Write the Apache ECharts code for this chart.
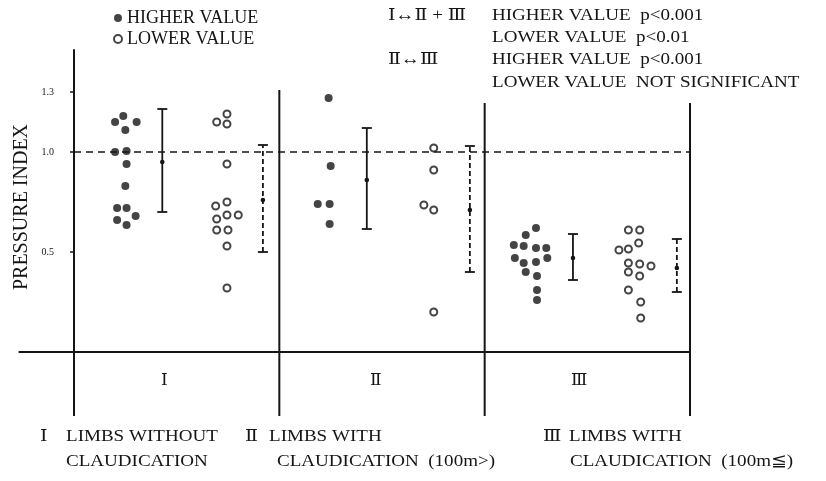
<!DOCTYPE html>
<html><head><meta charset="utf-8">
<script src="https://cdn.jsdelivr.net/npm/echarts@6/dist/echarts.min.js"></script>
<style>html,body{margin:0;padding:0;background:#fff}#c{width:826px;height:481px}</style>
</head><body><div id="c"></div>
<script>
// ---- data ----
const groupLabels = ['Ⅰ', 'Ⅱ', 'Ⅲ'];
const groupLabelPos = [0.44, 1.47, 2.46];
const yTickValues = [0.5, 1.0, 1.3];
const referenceValue = 1.0;
const referenceSpan = [0, 3];
const yMin = -0.32, yMax = 1.51;   // vertical rules reach down to yMin
const xMin = 0, xMax = 3, xStub = -0.27;
// [x position (group + jitter), pressure index]
const higherPoints = [
  [0.24,1.18],[0.20,1.15],[0.305,1.15],[0.25,1.11],[0.20,1.00],[0.256,1.005],[0.256,0.94],
  [0.25,0.83],[0.21,0.72],[0.256,0.72],[0.21,0.66],[0.30,0.68],[0.256,0.635],
  [1.24,1.27],[1.25,0.93],[1.187,0.74],[1.245,0.74],[1.245,0.64],
  [2.25,0.62],[2.20,0.585],[2.142,0.535],[2.19,0.53],[2.25,0.52],[2.30,0.52],[2.147,0.47],
  [2.305,0.47],[2.19,0.445],[2.25,0.45],[2.20,0.40],[2.255,0.38],[2.255,0.31],[2.255,0.26]
];
const lowerPoints = [
  [0.745,1.19],[0.695,1.15],[0.745,1.14],[0.745,0.94],[0.745,0.75],[0.69,0.73],[0.745,0.685],
  [0.80,0.685],[0.695,0.665],[0.695,0.61],[0.75,0.61],[0.745,0.53],[0.745,0.32],
  [1.752,1.02],[1.752,0.91],[1.704,0.735],[1.752,0.71],[1.752,0.20],
  [2.70,0.61],[2.755,0.61],[2.75,0.545],[2.654,0.51],[2.70,0.515],[2.70,0.445],[2.755,0.44],
  [2.81,0.43],[2.70,0.40],[2.755,0.38],[2.70,0.31],[2.76,0.25],[2.76,0.17]
];
// [x, low, mean, high]
const higherBars = [[0.43,0.70,0.95,1.215],[1.426,0.615,0.86,1.12],[2.43,0.36,0.47,0.59]];
const lowerBars = [[0.92,0.50,0.76,1.035],[1.928,0.40,0.71,1.03],[2.936,0.30,0.42,0.565]];
// vertical rules: [x, top]
const dividers = [[0,1.51],[1,1.31],[2,1.245],[3,1.245]];

const INK = '#151515';
const SERIF = "'Liberation Serif','DejaVu Serif',serif";
const SX = 1.12;

function barRender(dashed) {
  return function (params, api) {
    const x = api.value(0);
    const lo = api.coord([x, api.value(1)]);
    const mid = api.coord([x, api.value(2)]);
    const hi = api.coord([x, api.value(3)]);
    const cap = 5;
    return { type: 'group', children: [
      { type: 'line', shape: { x1: lo[0], y1: lo[1], x2: hi[0], y2: hi[1] },
        style: { stroke: INK, lineWidth: 1.8, lineDash: dashed ? [5, 3] : null } },
      { type: 'line', shape: { x1: hi[0]-cap, y1: hi[1], x2: hi[0]+cap, y2: hi[1] }, style: { stroke: INK, lineWidth: 1.8 } },
      { type: 'line', shape: { x1: lo[0]-cap, y1: lo[1], x2: lo[0]+cap, y2: lo[1] }, style: { stroke: INK, lineWidth: 1.8 } },
      { type: 'circle', shape: { cx: mid[0], cy: mid[1], r: 2.3 }, style: { fill: INK } }
    ]};
  };
}

function txt(text, x, y) {
  return { type: 'text', x: x, y: y, scaleX: SX,
    style: { text: text, font: '17px ' + SERIF, fill: INK, textVerticalAlign: 'middle' } };
}

const chart = echarts.init(document.getElementById('c'));
chart.setOption({
  animation: false,
  backgroundColor: '#fff',
  grid: { left: 74, right: 136, top: 50, bottom: 129, outerBoundsMode: 'none', containLabel: false },
  legend: {
    orient: 'vertical', left: 108, top: 4, itemGap: 3, itemWidth: 8, itemHeight: 8,
    icon: 'circle',
    textStyle: { fontFamily: SERIF, fontSize: 18, color: INK },
    data: ['HIGHER VALUE', 'LOWER VALUE']
  },
  xAxis: {
    type: 'value', min: xMin, max: xMax,
    axisLine: { show: true, onZero: false, lineStyle: { color: INK, width: 2 } },
    axisTick: { show: false },
    splitLine: { show: false },
    axisLabel: { customValues: groupLabelPos, margin: 20, fontFamily: SERIF, fontSize: 17, color: INK,
      formatter: function (v) { const i = groupLabelPos.indexOf(v); return i >= 0 ? groupLabels[i] : ''; } }
  },
  yAxis: {
    type: 'value', min: 0, max: yMax,
    axisLine: { show: true, onZero: false, lineStyle: { color: INK, width: 2 } },
    axisTick: { show: true, customValues: yTickValues, length: 4, lineStyle: { color: INK, width: 1.5 } },
    splitLine: { show: false },
    axisLabel: { customValues: yTickValues, margin: 20, fontFamily: SERIF, fontSize: 10, color: INK,
      formatter: function (v) { return v.toFixed(1); } }
  },
  graphic: [
    { type: 'text', x: 22, y: 207, rotation: Math.PI / 2,
      style: { text: 'PRESSURE INDEX', font: '20px ' + SERIF, fill: INK, textAlign: 'center', textVerticalAlign: 'middle' } },
    txt('Ⅰ↔Ⅱ + Ⅲ', 388, 16),
    txt('HIGHER VALUE  p<0.001', 492, 16),
    txt('LOWER VALUE  p<0.01', 492, 38),
    txt('Ⅱ↔Ⅲ', 388, 60),
    txt('HIGHER VALUE  p<0.001', 492, 60),
    txt('LOWER VALUE  NOT SIGNIFICANT', 492, 83),
    txt('Ⅰ', 40, 437),
    txt('LIMBS WITHOUT', 66, 437),
    txt('CLAUDICATION', 66, 462),
    txt('Ⅱ', 245, 437),
    txt('LIMBS WITH', 269, 437),
    txt('CLAUDICATION  (100m>)', 277, 462),
    txt('Ⅲ', 543, 437),
    txt('LIMBS WITH', 569, 437),
    txt('CLAUDICATION  (100m≦)', 570, 462)
  ],
  series: [
    { name: 'dividers', type: 'custom', silent: true, clip: false, data: dividers,
      renderItem: function (params, api) {
        const b = api.coord([api.value(0), yMin]);
        const t = api.coord([api.value(0), api.value(1)]);
        return { type: 'line', shape: { x1: b[0], y1: b[1], x2: t[0], y2: t[1] }, style: { stroke: INK, lineWidth: 2 } };
      } },
    { name: 'baseline', type: 'custom', silent: true, clip: false, data: [[xStub, xMax]],
      renderItem: function (params, api) {
        const a = api.coord([api.value(0), 0]);
        const b = api.coord([api.value(1), 0]);
        return { type: 'line', shape: { x1: a[0], y1: a[1], x2: b[0], y2: b[1] }, style: { stroke: INK, lineWidth: 2 } };
      } },
    { name: 'reference', type: 'line', silent: true, symbol: 'none',
      data: referenceSpan.map(function (x) { return [x, referenceValue]; }),
      lineStyle: { color: INK, width: 1.5, type: [7, 5] } },
    { name: 'HIGHER VALUE', type: 'scatter', data: higherPoints, symbol: 'circle', symbolSize: 8,
      itemStyle: { color: INK } },
    { name: 'LOWER VALUE', type: 'scatter', data: lowerPoints, symbol: 'circle', symbolSize: 7,
      itemStyle: { color: '#fff', borderColor: INK, borderWidth: 2 } },
    { name: 'higherBars', type: 'custom', data: higherBars, renderItem: barRender(false) },
    { name: 'lowerBars', type: 'custom', data: lowerBars, renderItem: barRender(true) }
  ]
});
</script>
</body></html>
